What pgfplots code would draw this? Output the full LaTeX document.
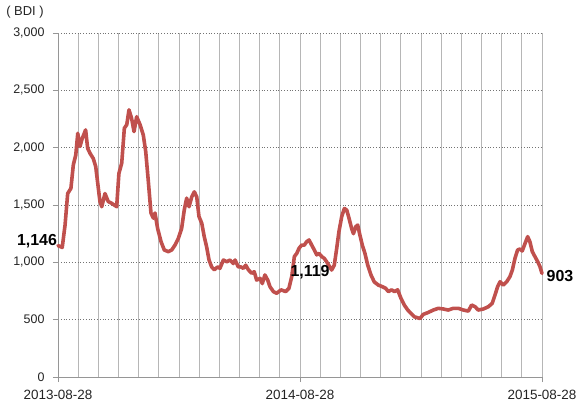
\documentclass[border=0pt]{standalone}
\usepackage{fontspec}
\setmainfont{Liberation Sans}
\usepackage{pgfplots}
\pgfplotsset{compat=1.18}
\definecolor{bdired}{RGB}{192,80,77}
\definecolor{gridgray}{RGB}{182,182,182}
\definecolor{axgray}{RGB}{150,150,150}
\definecolor{txtgray}{RGB}{35,35,35}
\begin{document}
\begin{tikzpicture}
\useasboundingbox (-58bp,-32bp) rectangle (524bp,377bp);
\begin{axis}[
  scale only axis,
  width=484bp, height=344bp,
  at={(0,0)}, anchor=south west,
  xmin=0, xmax=24, ymin=0, ymax=3000,
  axis x line*=bottom, axis y line*=left,
  axis line style={axgray, line width=0.9pt, -},
  xtick={0,12,24},
  xticklabels={2013-08-28,2014-08-28,2015-08-28},
  minor x tick num=11,
  ytick={0,500,1000,1500,2000,2500,3000},
  yticklabels={0,500,{1,000},{1,500},{2,000},{2,500},{3,000}},
  xmajorgrids, xminorgrids, ymajorgrids,
  major x grid style={gridgray, line width=0.9pt},
  minor x grid style={gridgray, line width=0.9pt},
  major y grid style={black!55, line width=0.8pt, dotted},
  tick style={axgray, line width=0.9pt},
  major tick length=5bp, minor tick length=0pt,
  tick align=outside,
  x tick label style={font=\fontsize{13.5}{14}\selectfont, text=txtgray, yshift=-5bp},
  y tick label style={font=\fontsize{12.5}{13}\selectfont, text=txtgray, xshift=-5bp},
  clip=false,
]
\addplot[bdired, line width=3.6bp, line join=round, line cap=round] coordinates {
(0.00,1146) (0.21,1130) (0.35,1325) (0.48,1600) (0.64,1645) (0.76,1850) (0.88,1935) (0.98,2125)
(1.09,2010) (1.20,2080) (1.37,2155) (1.47,1995) (1.59,1950) (1.75,1905) (1.87,1835) (1.97,1690)
(2.08,1530) (2.17,1485) (2.33,1600) (2.49,1530) (2.66,1515) (2.91,1485) (3.02,1775) (3.16,1865)
(3.29,2170) (3.41,2200) (3.52,2330) (3.65,2255) (3.77,2140) (3.90,2270) (4.07,2200) (4.23,2110)
(4.35,1965) (4.48,1705) (4.61,1430) (4.73,1385) (4.81,1430) (4.94,1295) (5.11,1180) (5.27,1108)
(5.47,1093) (5.64,1108) (5.80,1150) (5.97,1210) (6.13,1295) (6.26,1455) (6.38,1560) (6.50,1485)
(6.63,1570) (6.76,1615) (6.88,1570) (6.99,1400) (7.13,1340) (7.25,1225) (7.37,1135) (7.49,1020)
(7.62,960) (7.75,935) (7.92,960) (8.03,948) (8.20,1020) (8.37,1005) (8.53,1020) (8.69,990)
(8.78,1020) (8.94,960) (9.07,960) (9.19,948) (9.31,975) (9.44,935) (9.60,905) (9.73,918)
(9.85,845) (10.02,860) (10.13,815) (10.26,890) (10.40,845) (10.51,788) (10.68,745) (10.84,730)
(11.06,760) (11.29,745) (11.45,773) (11.59,875) (11.72,1050) (11.84,1078) (11.95,1122) (12.08,1150)
(12.21,1150) (12.33,1180) (12.45,1195) (12.58,1150) (12.71,1108) (12.83,1065) (12.94,1078) (13.08,1050)
(13.20,1035) (13.32,1005) (13.57,933) (13.70,975) (13.82,1122) (13.93,1267) (14.07,1400) (14.20,1470)
(14.32,1455) (14.43,1385) (14.56,1295) (14.65,1250) (14.76,1310) (14.86,1325) (14.97,1238) (15.09,1150)
(15.22,1078) (15.36,975) (15.52,890) (15.68,830) (15.88,802) (16.08,788) (16.25,773) (16.38,745)
(16.55,760) (16.68,745) (16.84,760) (17.01,685) (17.17,628) (17.34,585) (17.50,555) (17.67,525)
(17.95,510) (18.11,546) (18.36,563) (18.61,584) (18.86,599) (19.11,593) (19.35,584) (19.60,599)
(19.85,599) (20.10,584) (20.35,575) (20.51,628) (20.68,613) (20.84,584) (21.09,593) (21.34,613)
(21.53,642) (21.67,715) (21.80,788) (21.92,831) (22.08,802) (22.25,831) (22.41,875) (22.53,933)
(22.66,1035) (22.79,1108) (22.91,1116) (23.02,1099) (23.16,1165) (23.29,1224) (23.40,1180) (23.52,1093)
(23.65,1050) (23.79,1005) (23.90,962) (24.00,903)
};
\node[font=\bfseries\fontsize{16}{17}\selectfont] at (axis cs:-1.04,1186) {1,146};
\node[font=\bfseries\fontsize{16}{17}\selectfont] at (axis cs:12.5,916) {1,119};
\node[font=\bfseries\fontsize{16}{17}\selectfont] at (axis cs:24.89,881) {903};
\end{axis}
\node[font=\fontsize{13}{14}\selectfont, text=txtgray] at (-33bp,365bp) {( BDI )};
\end{tikzpicture}
\end{document}
